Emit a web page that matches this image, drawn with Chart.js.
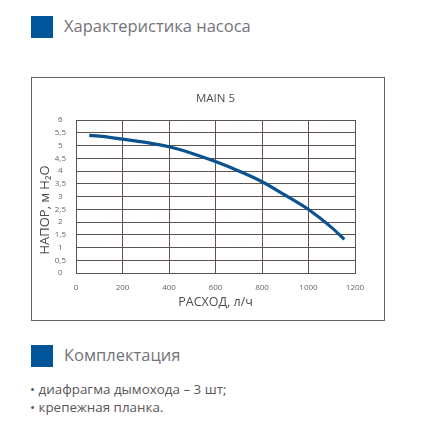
<!DOCTYPE html>
<html>
<head>
<meta charset="utf-8">
<script src="https://cdn.jsdelivr.net/npm/chart.js@4.4.0/dist/chart.umd.min.js"></script>
<style>
  html, body { margin: 0; padding: 0; background: #fff; }
  body { width: 428px; height: 430px; position: relative; overflow: hidden; font-family: "Open Sans", "Noto Sans", sans-serif; }
  .sq { position: absolute; width: 22px; height: 22px; background: #00569b; }
  .hd { position: absolute; font-size: 16.5px; color: #74737a; white-space: nowrap; line-height: 1; }
  .bl { position: absolute; font-size: 13.4px; color: #5a5558; white-space: nowrap; line-height: 1; }
  #box { position: absolute; left: 31px; top: 77px; width: 354px; height: 244px; box-sizing: border-box; border: 1px solid #6b5f5a; }
  #wrap { position: absolute; left: 32px; top: 78px; width: 352px; height: 242px; }
</style>
</head>
<body>
<div class="sq" style="left:31px;top:16px"></div>
<div class="hd" style="left:64px;top:18px">Характеристика насоса</div>
<div id="box"></div>
<div id="wrap"><canvas id="c" width="352" height="242"></canvas></div>
<div class="sq" style="left:31px;top:345px"></div>
<div class="hd" style="left:64px;top:347px">Комплектация</div>
<div class="bl" style="left:30px;top:383px">• диафрагма дымохода – 3 шт;</div>
<div class="bl" style="left:30px;top:401px">• крепежная планка.</div>
<script>
const chartTitle = 'MAIN 5';
const xTitle = 'РАСХОД, л/ч';
const yTitle = 'НАПОР, м H₂O';
const flow = [57, 100, 200, 300, 400, 500, 600, 700, 800, 900, 1000, 1100, 1154];
const head = [5.4, 5.37, 5.25, 5.12, 4.95, 4.69, 4.37, 4.0, 3.58, 3.05, 2.49, 1.78, 1.32];
const xTickLabels = ['0', '200', '400', '600', '800', '1000', '1200'];
const yTickLabels = ['0', '0,5', '1', '1,5', '2', '2,5', '3', '3,5', '4', '4,5', '5', '5,5', '6'];

const gridColor = '#5f534e';
const yTitlePlugin = {
  id: 'yTitlePlugin',
  afterDraw(chart) {
    const ctx = chart.ctx;
    ctx.save();
    ctx.translate(13, 132);
    ctx.rotate(-Math.PI / 2);
    ctx.font = '13px "Open Sans", "Noto Sans", sans-serif';
    ctx.fillStyle = '#4f4b4d';
    ctx.textAlign = 'center';
    ctx.textBaseline = 'middle';
    ctx.fillText(yTitle, 0, 0);
    ctx.restore();
  }
};

new Chart(document.getElementById('c'), {
  type: 'scatter',
  data: {
    datasets: [{
      data: flow.map((x, i) => ({ x: x, y: head[i] })),
      showLine: true,
      borderColor: '#0b5291',
      borderWidth: 3.2,
      pointRadius: 0,
      fill: false,
      cubicInterpolationMode: 'monotone',
      borderCapStyle: 'butt'
    }]
  },
  options: {
    responsive: false,
    animation: false,
    devicePixelRatio: 1,
    layout: { padding: { left: 0, right: 29, top: 0, bottom: 0 } },
    plugins: {
      legend: { display: false },
      tooltip: { enabled: false },
      title: {
        display: true,
        text: chartTitle,
        fullSize: false,
        color: '#4f4b4d',
        font: { family: '"Open Sans", "Noto Sans", sans-serif', size: 11.5, weight: 'normal', lineHeight: 1.2 },
        padding: { top: 14, bottom: 14.2 }
      }
    },
    scales: {
      x: {
        type: 'linear',
        min: 0, max: 1200,
        afterFit(s) { s.height = 47; },
        grid: { color: gridColor, lineWidth: 1, drawTicks: false },
        border: { display: true, color: gridColor, width: 1 },
        ticks: {
          stepSize: 200,
          padding: 10,
          color: '#6b5f5a',
          font: { family: '"Open Sans", "Noto Sans", sans-serif', size: 8 },
          callback: (v) => xTickLabels[Math.round(v / 200)]
        },
        title: {
          display: true,
          text: xTitle,
          color: '#4f4b4d',
          font: { family: '"Open Sans", "Noto Sans", sans-serif', size: 12.5 },
          padding: { top: 2, bottom: 10 }
        }
      },
      y: {
        type: 'linear',
        min: 0, max: 6,
        afterFit(s) { s.width = 44; },
        grid: { color: gridColor, lineWidth: 1, drawTicks: false },
        border: { display: true, color: gridColor, width: 1 },
        ticks: {
          stepSize: 0.5,
          padding: 10,
          crossAlign: 'center',
          color: '#6b5f5a',
          font: { family: '"Open Sans", "Noto Sans", sans-serif', size: 8 },
          callback: (v) => yTickLabels[Math.round(v * 2)]
        }
      }
    }
  },
  plugins: [yTitlePlugin]
});
</script>
</body>
</html>
